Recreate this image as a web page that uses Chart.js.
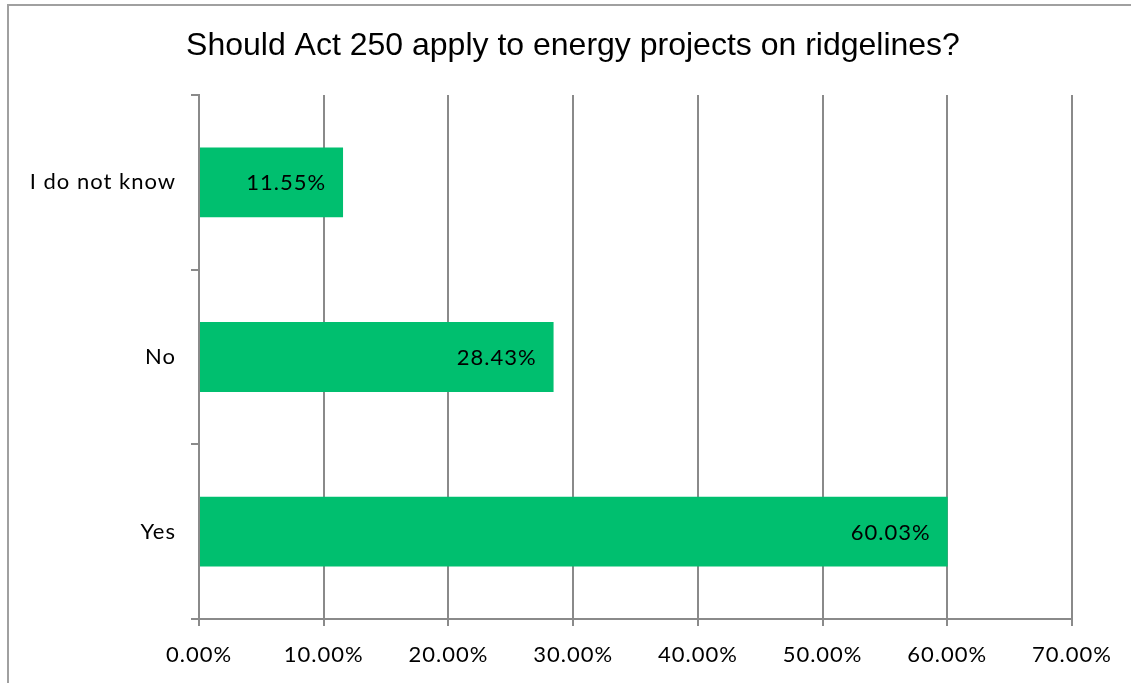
<!DOCTYPE html>
<html lang="en">
<head>
    <meta charset="UTF-8">
    <title>Act 250 ridgelines survey</title>
    <script src="https://cdn.jsdelivr.net/npm/chart.js"></script>
    <style>
        html, body { margin: 0; padding: 0; background: #fff; overflow: hidden; }
        #frame {
            position: absolute; left: 7px; top: 4px;
            width: 1200px; height: 800px;
            border: 2px solid #a0a0a0;
        }
        #wrap { position: absolute; left: 0; top: 0; width: 1131px; height: 683px; }
    </style>
</head>
<body>
    <div id="frame"></div>
    <div id="wrap"><canvas id="surveyChart" width="1131" height="683"></canvas></div>

    <script>
        const chartTitle = 'Should Act 250 apply to energy projects on ridgelines?';
        const answers = ['I do not know', 'No', 'Yes'];
        const shares = [11.55, 28.43, 60.03];
        const axisTicks = [0, 10, 20, 30, 40, 50, 60, 70];

        const gridGray = '#8a8a8a';
        const labelFont = { family: 'Lato', size: 22 };

        // the original labels are a bit loosely spaced
        const looseText = {
            id: 'looseText',
            beforeDraw(chart) { chart.ctx.letterSpacing = '1px'; }
        };

        // title is drawn by hand so it can sit a bit right of the canvas centre
        const titleText = {
            id: 'titleText',
            afterDraw(chart) {
                const ctx = chart.ctx;
                ctx.save();
                ctx.letterSpacing = '0px';
                ctx.font = '32px "Liberation Sans"';
                ctx.fillStyle = '#000';
                ctx.textAlign = 'center';
                ctx.textBaseline = 'alphabetic';
                ctx.fillText(chartTitle, 573, 55);
                ctx.restore();
            }
        };

        // draws the value inside the end of each bar
        const barValues = {
            id: 'barValues',
            afterDatasetsDraw(chart) {
                const ctx = chart.ctx;
                const meta = chart.getDatasetMeta(0);
                ctx.save();
                ctx.font = labelFont.size + 'px ' + labelFont.family;
                ctx.fillStyle = '#000';
                ctx.textAlign = 'right';
                ctx.textBaseline = 'middle';
                meta.data.forEach((bar, i) => {
                    ctx.fillText(shares[i].toFixed(2) + '%', bar.x - 17, bar.y + 1);
                });
                ctx.restore();
            }
        };

        new Chart(document.getElementById('surveyChart'), {
            type: 'bar',
            data: {
                labels: answers,
                datasets: [{
                    data: shares,
                    backgroundColor: '#00bf6f',
                    borderWidth: 0,
                    barPercentage: 0.4,
                    categoryPercentage: 1
                }]
            },
            options: {
                indexAxis: 'y',
                responsive: false,
                animation: false,
                layout: { padding: { left: 0, right: 59, top: 95, bottom: 0 } },
                plugins: {
                    legend: { display: false },
                    tooltip: { enabled: false },
                    title: { display: false }
                },
                scales: {
                    x: {
                        min: 0,
                        max: 70,
                        afterBuildTicks(scale) {
                            scale.ticks = axisTicks.map(v => ({ value: v }));
                        },
                        afterFit(scale) { scale.height = 64; },
                        ticks: {
                            color: '#000',
                            font: labelFont,
                            padding: 16,
                            maxRotation: 0,
                            callback: v => v.toFixed(2) + '%'
                        },
                        grid: {
                            color: gridGray,
                            lineWidth: 2,
                            tickLength: 7
                        },
                        border: { display: true, color: gridGray, width: 2 }
                    },
                    y: {
                        afterFit(scale) { scale.width = 199; },
                        ticks: {
                            color: '#000',
                            font: labelFont,
                            padding: 15
                        },
                        grid: {
                            offset: true,
                            drawOnChartArea: false,
                            color: gridGray,
                            lineWidth: 2,
                            tickLength: 8
                        },
                        border: { display: true, color: gridGray, width: 2 }
                    }
                }
            },
            plugins: [looseText, barValues, titleText]
        });
    </script>
</body>
</html>
